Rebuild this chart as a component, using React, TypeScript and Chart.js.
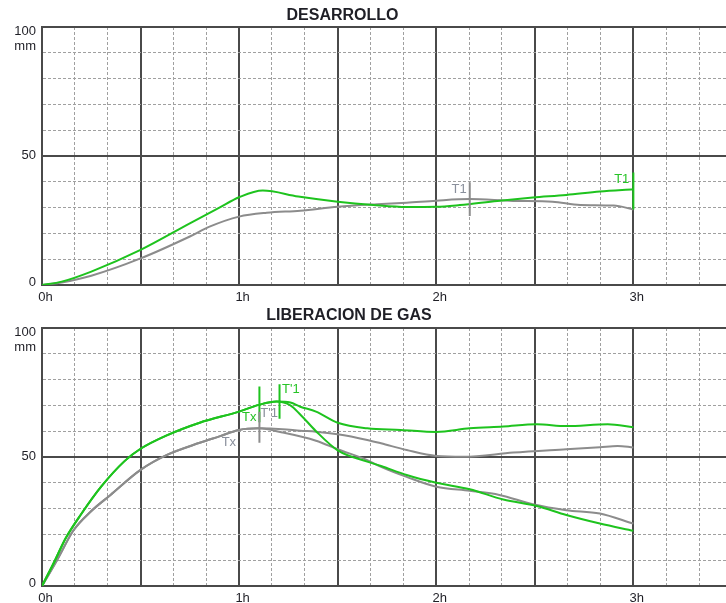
import React, { useEffect, useRef } from 'react';
import { Chart, registerables } from 'chart.js';

Chart.register(...registerables);

// ---- axis labels ----
const hourTicks = [0, 1, 2, 3];
const hourLabels = ['0h', '1h', '2h', '3h'];
const mmTicks = [100, 50, 0];
const mmLabels = ['100', '50', '0'];
const mmUnit = 'mm';

// ---- DESARROLLO (hours, mm) ----
const desVerdeT = [0, 0.1, 0.25, 0.5, 0.75, 0.9, 1.0, 1.12, 1.3, 1.5, 1.68, 1.85, 2.0, 2.12, 2.31, 2.49, 2.66, 2.83, 3.0];
const desVerdeMm = [0, 1.3, 5.2, 13.6, 23.9, 30.0, 34.0, 36.6, 34.3, 32.3, 31.0, 30.2, 30.3, 31.0, 32.6, 33.9, 34.9, 36.2, 37.1];
const desGrisT = [0, 0.1, 0.25, 0.5, 0.75, 0.85, 1.0, 1.14, 1.31, 1.5, 1.7, 1.85, 2.0, 2.17, 2.39, 2.59, 2.73, 2.9, 3.0];
const desGrisMm = [0, 1.0, 3.6, 10.3, 18.8, 22.6, 26.5, 28.0, 28.8, 30.3, 31.3, 31.9, 32.7, 33.3, 32.6, 32.3, 31.0, 30.8, 29.3];

// ---- LIBERACION DE GAS (hours, mm) ----
const libVerdeSubidaT = [0, 0.06, 0.12, 0.2, 0.3, 0.42, 0.5, 0.63, 0.8, 1.0, 1.1, 1.19];
const libVerdeSubidaMm = [0, 9, 18.5, 28, 38.5, 48.5, 53.2, 58.3, 63.3, 67.6, 70.2, 71.5];
const libVerdeAltaT = [1.26, 1.31, 1.39, 1.5, 1.65, 1.82, 2.0, 2.17, 2.34, 2.51, 2.66, 2.87, 3.0];
const libVerdeAltaMm = [71.1, 69.5, 67.6, 63.3, 61.1, 60.5, 59.7, 61.1, 61.8, 62.7, 62.0, 62.7, 61.5];
const libVerdeBajaT = [1.26, 1.31, 1.39, 1.5, 1.65, 1.72, 1.85, 2.0, 2.17, 2.34, 2.51, 2.66, 2.83, 3.0];
const libVerdeBajaMm = [70.0, 66.5, 60.0, 52.6, 48.2, 46.5, 43.0, 40.0, 37.5, 33.5, 31.0, 27.5, 24.2, 21.4];

const libGrisSubidaT = [0, 0.076, 0.16, 0.245, 0.346, 0.5, 0.634, 0.8, 0.9, 1.0, 1.1];
const libGrisSubidaMm = [0, 10, 21.6, 28.7, 35.2, 45.0, 50.8, 55.5, 58.0, 60.5, 61.1];
const libGrisAltaT = [1.22, 1.31, 1.39, 1.5, 1.65, 1.72, 1.85, 2.0, 2.14, 2.39, 2.66, 2.83, 2.92, 3.0];
const libGrisAltaMm = [60.8, 60.2, 59.8, 58.8, 56.6, 55.3, 52.7, 50.4, 50.1, 51.7, 53.0, 53.8, 54.3, 53.7];
const libGrisBajaT = [1.22, 1.39, 1.5, 1.65, 1.72, 1.85, 2.0, 2.17, 2.32, 2.49, 2.66, 2.83, 3.0];
const libGrisBajaMm = [59.5, 56.3, 53.0, 48.8, 46.2, 42.3, 38.5, 36.9, 35.3, 31.7, 29.4, 28.1, 24.2];

// ---- time markers: [hour, from mm, to mm] ----
const desMarcaGrisT1 = [2.17, 39.8, 26.7];
const desMarcaVerdeT1 = [3.0, 43.6, 29.3];
const libMarcaVerdeTx = [1.103, 77.3, 63.5];
const libMarcaVerdeT1 = [1.205, 78.2, 64.8];
const libMarcaGrisTx = [1.103, 67.5, 55.5];

// ---- marker captions: [hour, mm] ----
const desNotaGrisT1 = [2.17, 37.2];
const desNotaVerdeT1 = [3.0, 41.0];
const libNotaVerdeT1 = [1.205, 76.2];
const libNotaVerdeTx = [1.103, 65.5];
const libNotaGrisT1 = [1.205, 66.9];
const libNotaGrisTx = [1.0, 55.8];

const X_MAX = 3.47;
const FONT = "'Liberation Sans', Arial, Helvetica, sans-serif";
const GREEN = '#1ec31e';
const GRAY = '#8c8c8c';
const GREEN_TEXT = '#27c427';
const GRAY_TEXT = '#8a909c';
const MAJOR = '#4a4a4a';
const MINOR = '#a0a0a0';
const LABEL = '#1f1f26';

type Note = { text: string; at: number[]; color: string; dx: number; align: CanvasTextAlign };
type PanelDef = {
  title: string;
  titleX: number;
  top: number;
  height: number;
  padTop: number;
  padBottom: number;
  datasets: any[];
  notes: Note[];
};

const zip = (t: number[], v: number[]) => t.map((x, i) => ({ x, y: v[i] }));

const curve = (t: number[], v: number[], color: string, order: number) => ({
  data: zip(t, v),
  borderColor: color,
  borderWidth: 2,
  pointRadius: 0,
  fill: false,
  cubicInterpolationMode: 'monotone',
  order,
});

const marker = (m: number[], color: string, order: number) => ({
  data: [
    { x: m[0], y: m[1] },
    { x: m[0], y: m[2] },
  ],
  borderColor: color,
  borderWidth: 2,
  pointRadius: 0,
  fill: false,
  tension: 0,
  order,
});

const panels: PanelDef[] = [
  {
    title: 'DESARROLLO',
    titleX: 342.5,
    top: 0,
    height: 312,
    padTop: 27,
    padBottom: 27,
    datasets: [
      curve(desVerdeT, desVerdeMm, GREEN, 1),
      curve(desGrisT, desGrisMm, GRAY, 2),
      marker(desMarcaGrisT1, GRAY, 0),
      marker(desMarcaVerdeT1, GREEN, 0),
    ],
    notes: [
      { text: 'T1', at: desNotaGrisT1, color: GRAY_TEXT, dx: -3, align: 'right' },
      { text: 'T1', at: desNotaVerdeT1, color: GREEN_TEXT, dx: -4, align: 'right' },
    ],
  },
  {
    title: 'LIBERACION DE GAS',
    titleX: 349,
    top: 300,
    height: 303,
    padTop: 28,
    padBottom: 17,
    datasets: [
      curve(libVerdeSubidaT.concat(libVerdeAltaT), libVerdeSubidaMm.concat(libVerdeAltaMm), GREEN, 1),
      curve(libVerdeSubidaT.concat(libVerdeBajaT), libVerdeSubidaMm.concat(libVerdeBajaMm), GREEN, 1),
      curve(libGrisSubidaT.concat(libGrisAltaT), libGrisSubidaMm.concat(libGrisAltaMm), GRAY, 2),
      curve(libGrisSubidaT.concat(libGrisBajaT), libGrisSubidaMm.concat(libGrisBajaMm), GRAY, 2),
      marker(libMarcaVerdeTx, GREEN, 1),
      marker(libMarcaVerdeT1, GREEN, 1),
      marker(libMarcaGrisTx, GRAY, 0),
    ],
    notes: [
      { text: "T'1", at: libNotaVerdeT1, color: GREEN_TEXT, dx: 2.5, align: 'left' },
      { text: 'Tx', at: libNotaVerdeTx, color: GREEN_TEXT, dx: -3, align: 'right' },
      { text: "T'1", at: libNotaGrisT1, color: GRAY_TEXT, dx: -1.5, align: 'right' },
      { text: 'Tx', at: libNotaGrisTx, color: GRAY_TEXT, dx: -3, align: 'right' },
    ],
  },
];

// Draws the panel title, axis captions and marker captions.
const textPlugin = {
  id: 'panelText',
  afterDatasetsDraw(chart: any, _args: any, opts: any) {
    const { ctx, chartArea, scales } = chart;
    const xs = scales.x;
    const ys = scales.y;
    ctx.save();

    ctx.fillStyle = LABEL;
    ctx.font = `bold 16px ${FONT}`;
    ctx.textAlign = 'center';
    ctx.textBaseline = 'middle';
    ctx.fillText(opts.title, opts.titleX, 16);

    ctx.font = `13px ${FONT}`;
    ctx.textAlign = 'right';
    const lx = chartArea.left - 6;
    mmTicks.forEach((v, i) => {
      let y = ys.getPixelForValue(v);
      if (v === 100) y += 4;
      else if (v === 0) y -= 3;
      else y -= 1;
      ctx.fillText(mmLabels[i], lx, y);
      if (v === 100) ctx.fillText(mmUnit, lx, y + 15);
    });

    ctx.textAlign = 'center';
    hourTicks.forEach((h, i) => {
      ctx.fillText(hourLabels[i], xs.getPixelForValue(h) + 3.5, chartArea.bottom + 12.5);
    });

    (opts.notes as Note[]).forEach((n) => {
      ctx.fillStyle = n.color;
      ctx.textAlign = n.align;
      ctx.fillText(n.text, xs.getPixelForValue(n.at[0]) + n.dx, ys.getPixelForValue(n.at[1]));
    });
    ctx.restore();
  },
};

function Panel({ def }: { def: PanelDef }) {
  const ref = useRef<HTMLCanvasElement | null>(null);
  useEffect(() => {
    if (!ref.current) return;
    const chart = new Chart(ref.current, {
      type: 'line',
      data: { datasets: def.datasets },
      options: {
        animation: false,
        responsive: false,
        devicePixelRatio: 1,
        layout: { padding: { left: 42, right: 0, top: def.padTop, bottom: def.padBottom } },
        plugins: {
          legend: { display: false },
          tooltip: { enabled: false },
          title: { display: false },
          panelText: { title: def.title, titleX: def.titleX, notes: def.notes },
        } as any,
        scales: {
          x: {
            type: 'linear',
            min: 0,
            max: X_MAX,
            afterBuildTicks: (s: any) => {
              s.ticks = Array.from({ length: 21 }, (_, i) => ({ value: i / 6 }));
            },
            ticks: { display: false },
            grid: {
              drawTicks: false,
              color: (c: any) => (c.index % 3 === 0 ? MAJOR : MINOR),
              lineWidth: (c: any) => (c.index % 3 === 0 ? 2 : 1),
            },
            border: {
              display: true,
              color: MAJOR,
              width: 2,
              dash: (c: any) => (c.type === 'tick' && c.index % 3 !== 0 ? [3, 2] : []),
            },
          },
          y: {
            type: 'linear',
            min: 0,
            max: 100,
            afterBuildTicks: (s: any) => {
              s.ticks = Array.from({ length: 11 }, (_, i) => ({ value: i * 10 }));
            },
            ticks: { display: false },
            grid: {
              drawTicks: false,
              color: (c: any) => (c.index % 5 === 0 ? MAJOR : MINOR),
              lineWidth: (c: any) => (c.index % 5 === 0 ? 2 : 1),
            },
            border: {
              display: true,
              color: MAJOR,
              width: 2,
              dash: (c: any) => (c.type === 'tick' && c.index % 5 !== 0 ? [3, 2] : []),
            },
          },
        },
      } as any,
      plugins: [textPlugin],
    });
    return () => chart.destroy();
  }, [def]);

  return (
    <canvas
      ref={ref}
      width={726}
      height={def.height}
      style={{ position: 'absolute', left: 0, top: def.top, width: 726, height: def.height, display: 'block' }}
    />
  );
}

export default function App() {
  return (
    <div
      style={{
        position: 'fixed',
        left: 0,
        top: 0,
        width: 726,
        height: 603,
        overflow: 'hidden',
        background: '#ffffff',
      }}
    >
      {panels.map((p) => (
        <Panel key={p.title} def={p} />
      ))}
    </div>
  );
}
